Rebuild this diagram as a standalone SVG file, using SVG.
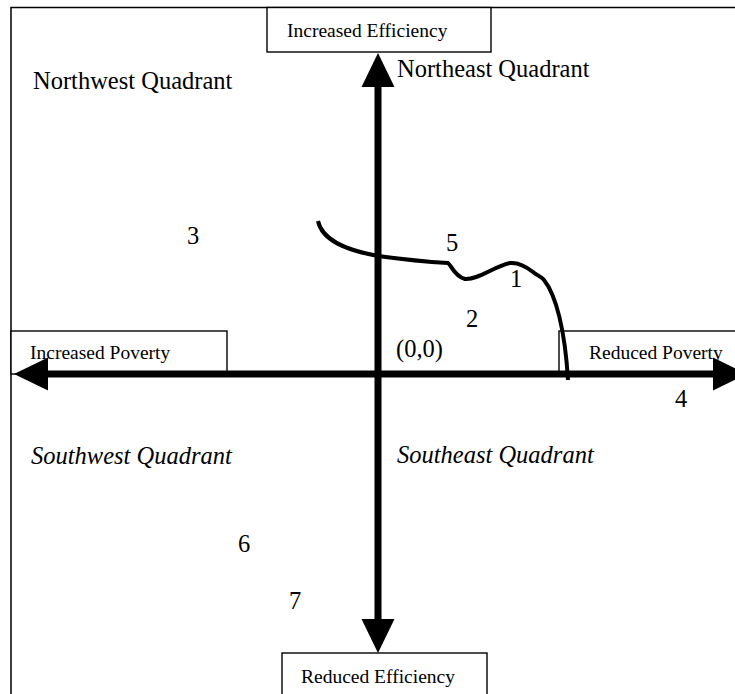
<svg xmlns="http://www.w3.org/2000/svg" width="735" height="694" viewBox="0 0 735 694">
  <style>
    .frame { fill: none; stroke: #000; stroke-width: 1.5; }
    .box { fill: #fff; stroke: #000; stroke-width: 1.4; }
    .small { font-family: "Liberation Serif", "Times New Roman", serif; font-size: 19.5px; fill: #000; }
    .big { font-family: "Liberation Serif", "Times New Roman", serif; font-size: 24.5px; fill: #000; }
    .it { font-style: italic; }
    .axis { stroke: #000; stroke-width: 7; fill: none; }
    .curve { stroke: #000; stroke-width: 4; fill: none; }
  </style>
  <defs>
    <marker id="arrow" markerUnits="userSpaceOnUse" markerWidth="36" markerHeight="34" refX="0" refY="16.5" orient="auto-start-reverse" overflow="visible">
      <path d="M0,0 L34,16.5 L0,33 Z" fill="#000"/>
    </marker>
  </defs>
  <rect width="735" height="694" fill="#fff"/>
  <rect class="frame" x="11" y="7.5" width="740" height="700"/>

  <g id="node-increased-efficiency">
    <rect class="box" x="267" y="7.5" width="224" height="44.5"/>
    <text class="small" x="287" y="37">Increased Efficiency</text>
  </g>
  <g id="node-increased-poverty">
    <rect class="box" x="11" y="331" width="216" height="43"/>
    <text class="small" x="30" y="359">Increased Poverty</text>
  </g>
  <g id="node-reduced-poverty">
    <rect class="box" x="559" y="331" width="190" height="43"/>
    <text class="small" x="589" y="359">Reduced Poverty</text>
  </g>
  <g id="node-reduced-efficiency">
    <rect class="box" x="282" y="653" width="205" height="50"/>
    <text class="small" x="301" y="683">Reduced Efficiency</text>
  </g>

  <g id="connectors">
    <line class="axis" x1="48" y1="374" x2="713" y2="374" marker-start="url(#arrow)" marker-end="url(#arrow)"/>
    <line class="axis" x1="378" y1="87" x2="378" y2="619" marker-start="url(#arrow)" marker-end="url(#arrow)"/>
    <path class="curve" d="M318,221 C322,240 345,250 378,256 C400,259 430,262 448,263 C452,266 454,276 465,279 C478,280 495,266 510,263 C520,262 528,268 533,272 C538,276 542,277 544,280 C556,295 565,330 568,380"/>
  </g>

  <g id="labels">
    <text class="big" x="33" y="89">Northwest Quadrant</text>
    <text class="big" x="397" y="77">Northeast Quadrant</text>
    <text class="big it" x="31" y="464">Southwest Quadrant</text>
    <text class="big it" x="397" y="463">Southeast Quadrant</text>
    <text class="big" x="187" y="244">3</text>
    <text class="big" x="446" y="251">5</text>
    <text class="big" x="510" y="287">1</text>
    <text class="big" x="466" y="327">2</text>
    <text class="big" x="396" y="357">(0,0)</text>
    <text class="big" x="675" y="407">4</text>
    <text class="big" x="238" y="552">6</text>
    <text class="big" x="289" y="609">7</text>
  </g>
</svg>
